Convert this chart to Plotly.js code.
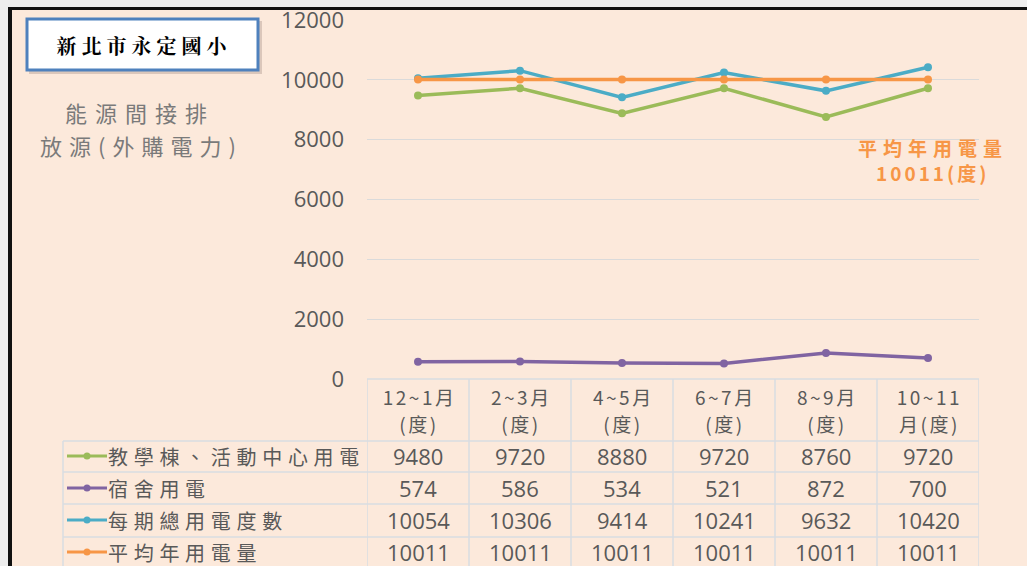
<!DOCTYPE html>
<html>
<head>
<meta charset="utf-8">
<script src="https://cdn.plot.ly/plotly-3.0.1.min.js"></script>
<style>html,body{margin:0;padding:0;background:#FCE9DB;}#chart{width:1027px;height:566px;}</style>
</head>
<body>
<div id="chart"></div>
<script>
// ---- data ----
const categories = ['12~1月<br>(度)', '2~3月<br>(度)', '4~5月<br>(度)', '6~7月<br>(度)', '8~9月<br>(度)', '10~11<br>月(度)'];
const seriesNames = ['教學棟、活動中心用電', '宿舍用電', '每期總用電度數', '平均年用電量'];
const teachBuilding = [9480, 9720, 8880, 9720, 8760, 9720];
const dormitory = [574, 586, 534, 521, 872, 700];
const totalUsage = [10054, 10306, 9414, 10241, 9632, 10420];
const averageYear = [10011, 10011, 10011, 10011, 10011, 10011];
const yTicks = [0, 2000, 4000, 6000, 8000, 10000, 12000];
const chartTitle = '新北市永定國小';
const yTitleLines = ['能源間接排', '放源(外購電力)'];
const avgLabel = '平均年用電量';
const avgUnit = '(度)';

// ---- styles ----
const W = 1027, H = 566;
const colors = ['#9BBB59', '#8064A2', '#4BACC6', '#F79646'];
const allSeries = [teachBuilding, dormitory, totalUsage, averageYear];
const px = x => x / W;
const py = y => 1 - y / H;
const gray = '#595959';
const gridLine = '#D8DCE2';
const cjk = '"Noto Sans CJK TC", "Noto Sans CJK SC", sans-serif';
const num = '"Open Sans", "Liberation Sans", sans-serif';

const plotL = 367, plotR = 979, plotT = 20, plotB = 379;
const rowLines = [441, 472, 504, 537];
const rowCenters = [456, 488, 520, 552];

const traces = allSeries.map((vals, i) => ({
  type: 'scatter', mode: 'lines+markers',
  x: categories, y: vals, name: seriesNames[i],
  line: {color: colors[i], width: 3.5},
  marker: {color: colors[i], size: 8},
  cliponaxis: false, showlegend: false, hoverinfo: 'skip'
}));

const shapes = [];
const annotations = [];
const spacing = {};   // annotation index -> letter spacing

function addAnn(a, ls) {
  annotations.push(a);
  if (ls) spacing[annotations.length - 1] = ls;
}

// outer frame
shapes.push({type:'rect', xref:'paper', yref:'paper', x0:0, x1:px(8), y0:0, y1:1, fillcolor:'#EEEEEE', line:{width:0}, layer:'above'});
shapes.push({type:'rect', xref:'paper', yref:'paper', x0:0, x1:1, y0:py(7), y1:1, fillcolor:'#EEEEEE', line:{width:0}, layer:'above'});
shapes.push({type:'rect', xref:'paper', yref:'paper', x0:px(8), x1:px(12), y0:0, y1:py(7), fillcolor:'#111111', line:{width:0}, layer:'above'});
shapes.push({type:'rect', xref:'paper', yref:'paper', x0:px(8), x1:1, y0:py(10), y1:py(7), fillcolor:'#111111', line:{width:0}, layer:'above'});

// title box with shadow
shapes.push({type:'rect', xref:'paper', yref:'paper', x0:px(29), x1:px(262), y0:py(74), y1:py(21), fillcolor:'rgba(120,100,90,0.25)', line:{width:0}});
shapes.push({type:'rect', xref:'paper', yref:'paper', x0:px(27), x1:px(258), y0:py(70), y1:py(19), fillcolor:'#FFFFFF', line:{color:'#4F81BD', width:3}});
addAnn({xref:'paper', yref:'paper', x:px(145), y:py(45), xanchor:'center', yanchor:'middle', showarrow:false,
  text:'<b>' + chartTitle + '</b>', font:{family:'"Noto Serif CJK TC", ' + cjk, size:20, color:'#000000'}}, '5px');

// y title
addAnn({xref:'paper', yref:'paper', x:px(140), y:py(112), xanchor:'center', yanchor:'middle', showarrow:false,
  text: yTitleLines[0], font:{family:cjk, size:22, color:'#7A7A7A'}}, '8px');
addAnn({xref:'paper', yref:'paper', x:px(141), y:py(145), xanchor:'center', yanchor:'middle', showarrow:false,
  text: yTitleLines[1], font:{family:cjk, size:22, color:'#7A7A7A'}}, '7px');

// average label
addAnn({xref:'paper', yref:'paper', x:px(933), y:py(147), xanchor:'center', yanchor:'middle', showarrow:false,
  text:'<b>' + avgLabel + '</b>', font:{family:cjk, size:19, color:'#F79646'}}, '6px');
addAnn({xref:'paper', yref:'paper', x:px(932), y:py(173), xanchor:'center', yanchor:'middle', showarrow:false,
  text:'<b>' + averageYear[0] + avgUnit + '</b>', font:{family:cjk, size:19, color:'#F79646'}}, '3px');

// data table grid
for (let i = 0; i <= categories.length; i++) {
  shapes.push({type:'line', xref:'x', yref:'paper', x0:i - 0.5, x1:i - 0.5, y0:py(plotB), y1:0, line:{color:gridLine, width:1.5}});
}
shapes.push({type:'line', xref:'paper', yref:'paper', x0:px(63), x1:px(63), y0:py(441), y1:0, line:{color:gridLine, width:1.5}});
shapes.push({type:'line', xref:'x', yref:'paper', x0:-0.5, x1:categories.length - 0.5, y0:py(plotB), y1:py(plotB), line:{color:gridLine, width:1.5}});
rowLines.forEach(r => {
  shapes.push({type:'line', xref:'paper', yref:'paper', x0:px(63), x1:px(plotR), y0:py(r), y1:py(r), line:{color:gridLine, width:1.5}});
});

// header labels (two-line category names, one annotation per line)
categories.forEach((c, i) => {
  const parts = c.split('<br>');
  addAnn({xref:'x', yref:'paper', x:i + 0.01, y:py(396), xanchor:'center', yanchor:'middle', showarrow:false,
    text: parts[0], font:{family:cjk, size:19, color:gray}}, '2.5px');
  addAnn({xref:'x', yref:'paper', x:i + 0.01, y:py(423), xanchor:'center', yanchor:'middle', showarrow:false,
    text: parts[1], font:{family:cjk, size:19, color:gray}}, '2.5px');
});

// rows: legend key + label + values
allSeries.forEach((vals, r) => {
  const yc = rowCenters[r];
  shapes.push({type:'line', xref:'paper', yref:'paper', x0:px(67), x1:px(107), y0:py(yc), y1:py(yc), line:{color:colors[r], width:3}});
  shapes.push({type:'circle', xref:'paper', yref:'paper', x0:px(83.5), x1:px(90.5), y0:py(yc + 3.5), y1:py(yc - 3.5), fillcolor:colors[r], line:{width:0}});
  addAnn({xref:'paper', yref:'paper', x:px(106), y:py(yc), xanchor:'left', yanchor:'middle', align:'left', showarrow:false,
    text: seriesNames[r], font:{family:cjk, size:20, color:gray}}, '5.7px');
  vals.forEach((v, i) => {
    addAnn({xref:'x', yref:'paper', x:i, y:py(yc), xanchor:'center', yanchor:'middle', showarrow:false,
      text: String(v), font:{family:num, size:22, color:gray}});
  });
});

const layout = {
  width: W, height: H,
  margin: {l:0, r:0, t:0, b:0},
  paper_bgcolor: '#FCE9DB', plot_bgcolor: 'rgba(0,0,0,0)',
  showlegend: false,
  xaxis: {domain:[px(plotL), px(plotR)], type:'category', range:[-0.5, categories.length - 0.5],
    showticklabels:false, showgrid:false, zeroline:false, showline:false, ticks:'', fixedrange:true},
  yaxis: {domain:[py(plotB), py(plotT)], range:[0, 12000], tickvals:yTicks, ticktext:yTicks.map(String),
    tickfont:{family:num, size:22, color:gray}, gridcolor:'#DADADA', gridwidth:1.2,
    zeroline:false, showline:false, ticks:'', ticklabelstandoff:22, fixedrange:true},
  shapes: shapes,
  annotations: annotations
};

Plotly.newPlot('chart', traces, layout, {displayModeBar:false, staticPlot:true}).then(() => {
  document.querySelectorAll('g.annotation').forEach(g => {
    const idx = g.getAttribute('data-index');
    const s = spacing[idx];
    if (s) {
      const t = g.querySelector('text.annotation-text');
      if (t) t.style.letterSpacing = s;
    }
  });
});
</script>
</body>
</html>
